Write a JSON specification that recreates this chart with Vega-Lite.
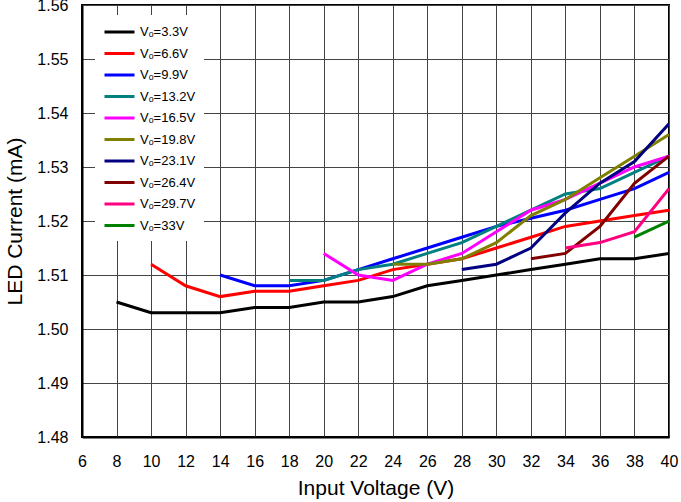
{
  "$schema": "https://vega.github.io/schema/vega-lite/v6.json",
  "autosize": {"type": "none"},
  "padding": {"left": 82, "top": 5, "right": 12, "bottom": 65},
  "width": 587,
  "height": 432,
  "background": "white",
  "config": {
    "view": {"stroke": "black", "strokeWidth": 2},
    "font": "Liberation Sans",
    "axis": {
      "labelFont": "Liberation Sans",
      "labelFontSize": 16,
      "labelColor": "black",
      "titleFont": "Liberation Sans",
      "titleFontSize": 21,
      "titleFontWeight": "normal",
      "titleColor": "black",
      "gridColor": "#444",
      "gridWidth": 1,
      "gridOpacity": 1,
      "domainColor": "black",
      "domainWidth": 2,
      "ticks": false
    }
  },
  "data": {
    "values": [
      {"s": "Vₒ=3.3V", "x": 8, "y": 1.505}, {"s": "Vₒ=3.3V", "x": 10, "y": 1.503}, {"s": "Vₒ=3.3V", "x": 12, "y": 1.503}, {"s": "Vₒ=3.3V", "x": 14, "y": 1.503}, {"s": "Vₒ=3.3V", "x": 16, "y": 1.504}, {"s": "Vₒ=3.3V", "x": 18, "y": 1.504}, {"s": "Vₒ=3.3V", "x": 20, "y": 1.505}, {"s": "Vₒ=3.3V", "x": 22, "y": 1.505}, {"s": "Vₒ=3.3V", "x": 24, "y": 1.506}, {"s": "Vₒ=3.3V", "x": 26, "y": 1.508}, {"s": "Vₒ=3.3V", "x": 28, "y": 1.509}, {"s": "Vₒ=3.3V", "x": 30, "y": 1.510}, {"s": "Vₒ=3.3V", "x": 32, "y": 1.511}, {"s": "Vₒ=3.3V", "x": 34, "y": 1.512}, {"s": "Vₒ=3.3V", "x": 36, "y": 1.513}, {"s": "Vₒ=3.3V", "x": 38, "y": 1.513}, {"s": "Vₒ=3.3V", "x": 40, "y": 1.514},
      {"s": "Vₒ=6.6V", "x": 10, "y": 1.512}, {"s": "Vₒ=6.6V", "x": 12, "y": 1.508}, {"s": "Vₒ=6.6V", "x": 14, "y": 1.506}, {"s": "Vₒ=6.6V", "x": 16, "y": 1.507}, {"s": "Vₒ=6.6V", "x": 18, "y": 1.507}, {"s": "Vₒ=6.6V", "x": 20, "y": 1.508}, {"s": "Vₒ=6.6V", "x": 22, "y": 1.509}, {"s": "Vₒ=6.6V", "x": 24, "y": 1.511}, {"s": "Vₒ=6.6V", "x": 26, "y": 1.512}, {"s": "Vₒ=6.6V", "x": 28, "y": 1.513}, {"s": "Vₒ=6.6V", "x": 30, "y": 1.515}, {"s": "Vₒ=6.6V", "x": 32, "y": 1.517}, {"s": "Vₒ=6.6V", "x": 34, "y": 1.519}, {"s": "Vₒ=6.6V", "x": 36, "y": 1.520}, {"s": "Vₒ=6.6V", "x": 38, "y": 1.521}, {"s": "Vₒ=6.6V", "x": 40, "y": 1.522},
      {"s": "Vₒ=9.9V", "x": 14, "y": 1.510}, {"s": "Vₒ=9.9V", "x": 16, "y": 1.508}, {"s": "Vₒ=9.9V", "x": 18, "y": 1.508}, {"s": "Vₒ=9.9V", "x": 20, "y": 1.509}, {"s": "Vₒ=9.9V", "x": 22, "y": 1.511}, {"s": "Vₒ=9.9V", "x": 24, "y": 1.513}, {"s": "Vₒ=9.9V", "x": 26, "y": 1.515}, {"s": "Vₒ=9.9V", "x": 28, "y": 1.517}, {"s": "Vₒ=9.9V", "x": 30, "y": 1.519}, {"s": "Vₒ=9.9V", "x": 32, "y": 1.5205}, {"s": "Vₒ=9.9V", "x": 34, "y": 1.522}, {"s": "Vₒ=9.9V", "x": 36, "y": 1.524}, {"s": "Vₒ=9.9V", "x": 38, "y": 1.526}, {"s": "Vₒ=9.9V", "x": 40, "y": 1.529},
      {"s": "Vₒ=13.2V", "x": 18, "y": 1.509}, {"s": "Vₒ=13.2V", "x": 20, "y": 1.509}, {"s": "Vₒ=13.2V", "x": 22, "y": 1.511}, {"s": "Vₒ=13.2V", "x": 24, "y": 1.512}, {"s": "Vₒ=13.2V", "x": 26, "y": 1.514}, {"s": "Vₒ=13.2V", "x": 28, "y": 1.516}, {"s": "Vₒ=13.2V", "x": 30, "y": 1.519}, {"s": "Vₒ=13.2V", "x": 32, "y": 1.522}, {"s": "Vₒ=13.2V", "x": 34, "y": 1.525}, {"s": "Vₒ=13.2V", "x": 36, "y": 1.526}, {"s": "Vₒ=13.2V", "x": 38, "y": 1.529}, {"s": "Vₒ=13.2V", "x": 40, "y": 1.532},
      {"s": "Vₒ=16.5V", "x": 20, "y": 1.514}, {"s": "Vₒ=16.5V", "x": 22, "y": 1.510}, {"s": "Vₒ=16.5V", "x": 24, "y": 1.509}, {"s": "Vₒ=16.5V", "x": 26, "y": 1.512}, {"s": "Vₒ=16.5V", "x": 28, "y": 1.514}, {"s": "Vₒ=16.5V", "x": 30, "y": 1.518}, {"s": "Vₒ=16.5V", "x": 32, "y": 1.522}, {"s": "Vₒ=16.5V", "x": 34, "y": 1.524}, {"s": "Vₒ=16.5V", "x": 36, "y": 1.527}, {"s": "Vₒ=16.5V", "x": 38, "y": 1.530}, {"s": "Vₒ=16.5V", "x": 40, "y": 1.532},
      {"s": "Vₒ=19.8V", "x": 24, "y": 1.512}, {"s": "Vₒ=19.8V", "x": 26, "y": 1.512}, {"s": "Vₒ=19.8V", "x": 28, "y": 1.513}, {"s": "Vₒ=19.8V", "x": 30, "y": 1.516}, {"s": "Vₒ=19.8V", "x": 32, "y": 1.521}, {"s": "Vₒ=19.8V", "x": 34, "y": 1.524}, {"s": "Vₒ=19.8V", "x": 36, "y": 1.528}, {"s": "Vₒ=19.8V", "x": 38, "y": 1.532}, {"s": "Vₒ=19.8V", "x": 40, "y": 1.536},
      {"s": "Vₒ=23.1V", "x": 28, "y": 1.511}, {"s": "Vₒ=23.1V", "x": 30, "y": 1.512}, {"s": "Vₒ=23.1V", "x": 32, "y": 1.515}, {"s": "Vₒ=23.1V", "x": 34, "y": 1.5215}, {"s": "Vₒ=23.1V", "x": 36, "y": 1.527}, {"s": "Vₒ=23.1V", "x": 38, "y": 1.531}, {"s": "Vₒ=23.1V", "x": 40, "y": 1.538},
      {"s": "Vₒ=26.4V", "x": 32, "y": 1.513}, {"s": "Vₒ=26.4V", "x": 34, "y": 1.514}, {"s": "Vₒ=26.4V", "x": 36, "y": 1.519}, {"s": "Vₒ=26.4V", "x": 38, "y": 1.527}, {"s": "Vₒ=26.4V", "x": 40, "y": 1.532},
      {"s": "Vₒ=29.7V", "x": 34, "y": 1.515}, {"s": "Vₒ=29.7V", "x": 36, "y": 1.516}, {"s": "Vₒ=29.7V", "x": 38, "y": 1.518}, {"s": "Vₒ=29.7V", "x": 40, "y": 1.526},
      {"s": "Vₒ=33V", "x": 38, "y": 1.517}, {"s": "Vₒ=33V", "x": 40, "y": 1.520}
    ]
  },
  "mark": {"type": "line", "strokeWidth": 3, "clip": true},
  "encoding": {
    "x": {
      "field": "x", "type": "quantitative",
      "scale": {"domain": [6, 40], "nice": false, "zero": false},
      "axis": {"title": "Input Voltage (V)", "values": [6, 8, 10, 12, 14, 16, 18, 20, 22, 24, 26, 28, 30, 32, 34, 36, 38, 40], "labelPadding": 16, "titlePadding": 8, "labelFlush": false}
    },
    "y": {
      "field": "y", "type": "quantitative",
      "scale": {"domain": [1.48, 1.56], "nice": false, "zero": false},
      "axis": {"title": "LED Current (mA)", "values": [1.48, 1.49, 1.5, 1.51, 1.52, 1.53, 1.54, 1.55, 1.56], "format": ".2f", "labelPadding": 14, "titlePadding": 11, "labelFlush": false}
    },
    "color": {
      "field": "s", "type": "nominal",
      "scale": {
        "domain": ["Vₒ=3.3V", "Vₒ=6.6V", "Vₒ=9.9V", "Vₒ=13.2V", "Vₒ=16.5V", "Vₒ=19.8V", "Vₒ=23.1V", "Vₒ=26.4V", "Vₒ=29.7V", "Vₒ=33V"],
        "range": ["#000000", "#FF0000", "#0000FF", "#008080", "#FF00FF", "#808000", "#000080", "#800000", "#FF0080", "#008000"]
      },
      "legend": {
        "title": null,
        "orient": "none",
        "legendX": 13,
        "legendY": 10,
        "fillColor": "white",
        "padding": 8,
        "symbolType": "M-1,0H3",
        "symbolSize": 225,
        "symbolStrokeWidth": 3,
        "labelFont": "Liberation Sans",
        "labelFontSize": 13,
        "labelColor": "black",
        "labelOffset": 19,
        "rowPadding": 5.5
      }
    }
  }
}
